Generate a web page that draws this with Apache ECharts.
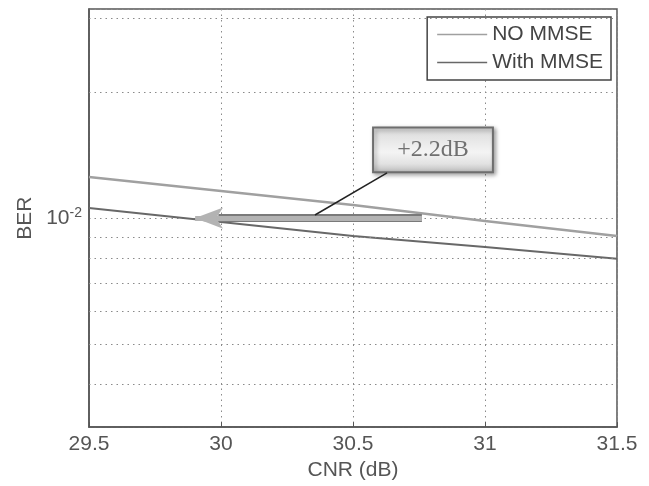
<!DOCTYPE html>
<html>
<head>
<meta charset="utf-8">
<script src="https://cdn.jsdelivr.net/npm/echarts@6/dist/echarts.min.js"></script>
<style>
html,body{margin:0;padding:0;background:#fff;}
#chart{width:649px;height:486px;}
</style>
</head>
<body>
<div id="chart"></div>
<script>
// ---- data ----
var cnr = [29.5, 30, 30.5, 31, 31.5];
var berNoMmse = [0.01253, 0.01160, 0.01074, 0.00984, 0.00906];
var berWithMmse = [0.01057, 0.00978, 0.00906, 0.00853, 0.00799];
var seriesNames = ['NO MMSE', 'With MMSE'];
var xTicks = [29.5, 30, 30.5, 31, 31.5];
var yMinorGrid = [0.004, 0.005, 0.006, 0.007, 0.008, 0.009, 0.02, 0.03];
var annotationText = '+2.2dB';
// annotation anchor points in data units
var arrowFrom = [30.761, 0.0100];
var arrowTo = [29.902, 0.0100];
var arrowShaftEnd = [29.99, 0.0100];
var leaderFrom = [30.356, 0.01017];
var leaderTo = [30.629, 0.01282];
var boxTopLeft = [30.576, 0.01647];
var boxBottomRight = [31.030, 0.01287];

function pairs(xs, ys) { return xs.map(function (x, i) { return [x, ys[i]]; }); }

var chart = echarts.init(document.getElementById('chart'), null, {renderer: 'canvas'});
var dotted = {color: '#8a8a8a', width: 1, type: [1.5, 4]};
var font = 'Liberation Sans, Arial, sans-serif';
var xMin = 29.5, xMax = 31.5;

chart.setOption({
  animation: false,
  backgroundColor: '#fff',
  grid: {left: 89, right: 32, top: 9, bottom: 57, show: true, borderColor: '#555', borderWidth: 1.5},
  legend: {
    orient: 'vertical', right: 38, top: 17,
    data: seriesNames,
    icon: 'rect',
    borderColor: '#444', borderWidth: 1.5, backgroundColor: '#fff',
    padding: [7, 8, 7, 10], itemGap: 7, itemWidth: 50, itemHeight: 1.6,
    textStyle: {fontSize: 21, color: '#444', fontFamily: font}
  },
  xAxis: {
    type: 'value', min: xMin, max: xMax, interval: 0.5,
    name: 'CNR (dB)', nameLocation: 'middle', nameGap: 30,
    nameTextStyle: {fontSize: 21, color: '#555', fontFamily: font},
    axisLine: {show: true, lineStyle: {color: '#555', width: 1.5}},
    axisTick: {show: true, inside: true, length: 5, lineStyle: {color: '#555'}},
    axisLabel: {fontSize: 21, color: '#555', fontFamily: font, margin: 7,
      formatter: function (v) { return xTicks.indexOf(v) >= 0 ? String(v) : ''; }},
    splitLine: {show: true, lineStyle: dotted}
  },
  yAxis: {
    type: 'log', logBase: 10, min: Math.pow(10, -2.5), max: Math.pow(10, -1.5),
    name: 'BER', nameLocation: 'middle', nameGap: 52,
    nameTextStyle: {fontSize: 21, color: '#555', fontFamily: font},
    axisLine: {show: true, lineStyle: {color: '#555', width: 1.5}},
    axisTick: {show: false},
    axisLabel: {
      color: '#555', fontFamily: font, fontSize: 21, margin: 7,
      formatter: function (v) { return Math.abs(Math.log10(v) + 2) < 1e-6 ? '10{sup|-2}' : ''; },
      rich: {sup: {fontSize: 14, color: '#555', fontFamily: font, verticalAlign: 'top', padding: [0, 0, 10, 0]}}
    },
    splitLine: {show: true, lineStyle: dotted}
  },
  series: [
    {
      name: seriesNames[0], type: 'line', data: pairs(cnr, berNoMmse),
      symbol: 'none', showSymbol: false,
      lineStyle: {color: '#a0a0a0', width: 2.5}, itemStyle: {color: '#a0a0a0'},
      z: 3,
      markLine: {
        silent: true, symbol: ['none', 'none'], label: {show: false}, animation: false,
        lineStyle: dotted,
        data: yMinorGrid.map(function (v) { return [{coord: [xMin, v]}, {coord: [xMax, v]}]; })
      },
      markArea: {
        silent: true,
        itemStyle: {
          color: new echarts.graphic.LinearGradient(0, 0, 0, 1, [
            {offset: 0, color: '#d9d9d9'}, {offset: 0.55, color: '#f4f4f4'},
            {offset: 0.8, color: '#e2e2e2'}, {offset: 1, color: '#b8b8b8'}
          ]),
          borderColor: '#6e6e6e', borderWidth: 2,
          shadowColor: 'rgba(0,0,0,0.35)', shadowBlur: 4, shadowOffsetX: 2, shadowOffsetY: 2
        },
        label: {show: true, position: 'inside', formatter: annotationText,
          fontFamily: 'Liberation Serif, Times New Roman, serif', fontSize: 24, color: '#707070'},
        data: [[{coord: boxTopLeft}, {coord: boxBottomRight}]]
      }
    },
    {
      name: seriesNames[1], type: 'line', data: pairs(cnr, berWithMmse),
      symbol: 'none', showSymbol: false,
      lineStyle: {color: '#686868', width: 2}, itemStyle: {color: '#686868'},
      z: 3,
      markLine: {
        silent: true, label: {show: false}, animation: false, symbol: ['none', 'none'],
        lineStyle: {type: 'solid'},
        data: [
          [{coord: arrowFrom, symbol: 'none', lineStyle: {color: '#7a7a7a', width: 8, type: 'solid'}},
           {coord: arrowShaftEnd, symbol: 'none'}],
          [{coord: arrowFrom, symbol: 'none', lineStyle: {color: '#b3b3b3', width: 5, type: 'solid'}},
           {coord: arrowTo, symbol: 'arrow', symbolSize: [16, 28]}],
          [{coord: leaderFrom, symbol: 'none', lineStyle: {color: '#222', width: 1.5, type: 'solid'}},
           {coord: leaderTo, symbol: 'none'}]
        ]
      }
    }
  ]
});
</script>
</body>
</html>
